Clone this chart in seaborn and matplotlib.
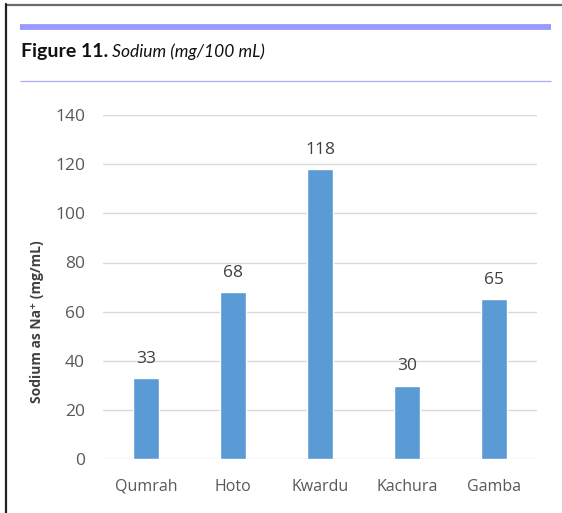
import matplotlib
matplotlib.use("Agg")
import matplotlib.pyplot as plt
from matplotlib.lines import Line2D
import seaborn as sns
import pandas as pd

# Sodium content per site
sites = ["Qumrah", "Hoto", "Kwardu", "Kachura", "Gamba"]
sodium = [33, 68, 118, 30, 65]
y_ticks = [0, 20, 40, 60, 80, 100, 120, 140]

df = pd.DataFrame({"site": sites, "sodium": sodium})

sns.set_theme(style="white")
plt.rcParams["font.family"] = ["Open Sans", "DejaVu Sans"]

W, H = 562, 513
fig = plt.figure(figsize=(W / 100, H / 100), dpi=100)
fig.patch.set_facecolor("white")

def fx(px):
    return px / W

def fy(py):
    return 1 - py / H

# page frame: top rule and left rule
fig.add_artist(Line2D([fx(6), fx(562)], [fy(4.5), fy(4.5)], color="#6b6b6b", lw=1.6))
fig.add_artist(Line2D([fx(6.5), fx(6.5)], [fy(4), fy(513)], color="#222222", lw=1.6))

# heading rules
fig.add_artist(Line2D([fx(20), fx(551)], [fy(26.5), fy(26.5)], color="#9999ff", lw=4.2, solid_capstyle="butt"))
fig.add_artist(Line2D([fx(20), fx(551)], [fy(80.5), fy(80.5)], color="#aaaaff", lw=0.9, solid_capstyle="butt"))

# plot area
left, right = 103, 537
top, bottom = 114.9, 459.3
ax = fig.add_axes([fx(left), fy(bottom), (right - left) / W, (bottom - top) / H])
ax.set_facecolor("white")

# caption
t1 = fig.text(fx(21), fy(52), "Figure 11.", fontsize=14, fontweight="bold",
              family=["Lato", "DejaVu Sans"], color="#111111", va="center", ha="left")
ax.annotate(" Sodium (mg/100 mL)", xy=(1, 0.5), xycoords=t1, va="center", ha="left",
            fontsize=12.5, fontstyle="italic", family=["Lato", "DejaVu Sans"], color="#111111",
            annotation_clip=False)

sns.barplot(data=df, x="site", y="sodium", color="#5B9BD5", width=0.3,
            saturation=1, ax=ax, zorder=3)

ax.set_ylim(0, 140)
ax.set_xlim(-0.5, len(sites) - 0.5)
ax.set_yticks(y_ticks)
ax.yaxis.grid(True, color="#d9d9d9", lw=1.0, zorder=0)
ax.xaxis.grid(False)
ax.set_axisbelow(True)
for s in ax.spines.values():
    s.set_visible(False)

ax.tick_params(axis="y", length=0, pad=13, labelsize=12.5, labelcolor="#595959")
ax.tick_params(axis="x", length=0, pad=14, labelsize=11.5, labelcolor="#595959")
ax.set_xlabel("")
ax.set_ylabel("Sodium as Na\u207a (mg/mL)", fontsize=10, fontweight="bold", color="#404040",
              family=["Open Sans", "DejaVu Sans"])
ax.yaxis.set_label_coords((44 - left) / (right - left), 0.40)

ax.bar_label(ax.containers[0], labels=[str(v) for v in sodium], padding=8,
             fontsize=12.5, color="#404040")

fig.savefig("out.png", dpi=100, facecolor="white")
